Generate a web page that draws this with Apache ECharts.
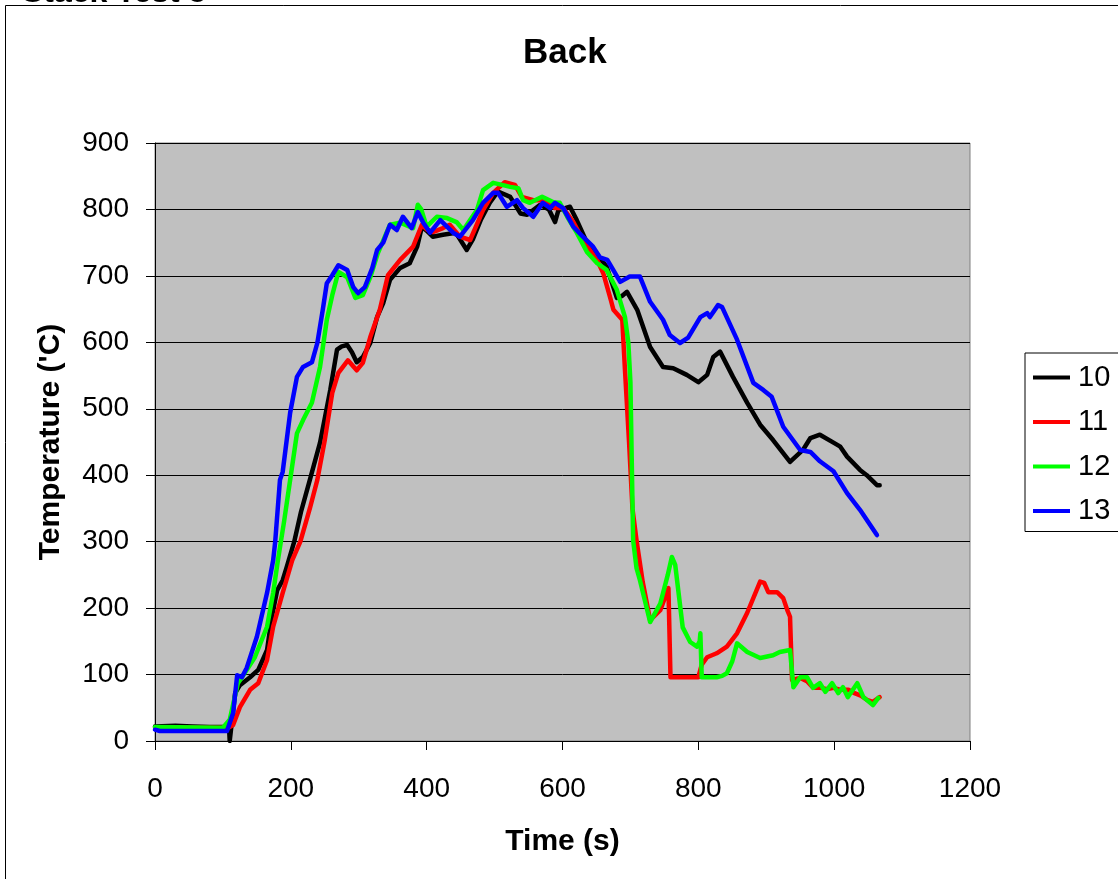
<!DOCTYPE html>
<html>
<head>
<meta charset="utf-8">
<script src="https://cdn.jsdelivr.net/npm/echarts@6/dist/echarts.min.js"></script>
<style>
html,body{margin:0;padding:0;background:#fff;}
#c{width:1118px;height:879px;}
</style>
</head>
<body>
<div id="c"></div>
<script>
// Time (s), Temperature ('C) pairs
const seriesNames = ['10', '11', '12', '13'];
const seriesColors = ['#000000', '#FF0000', '#00FF00', '#0000FF'];
const xTicks = [0, 200, 400, 600, 800, 1000, 1200];
const yTicks = [0, 100, 200, 300, 400, 500, 600, 700, 800, 900];

const s10 = [[0,22],[30,23],[55,22],[80,21],[106,21],[109,21],[110,0],[112,0],[118,72],[125,84],[140,96],[152,107],[165,137],[172,187],[180,227],[188,242],[194,262],[205,300],[215,345],[228,393],[243,449],[258,528],[268,589],[275,594],[283,596],[290,585],[297,570],[306,578],[317,599],[327,638],[336,659],[346,694],[361,712],[375,719],[386,744],[393,774],[400,768],[409,759],[424,762],[443,765],[459,739],[468,755],[480,785],[493,810],[505,827],[523,819],[538,794],[548,792],[567,807],[580,800],[589,781],[594,799],[611,804],[621,784],[636,750],[655,727],[665,714],[680,667],[688,670],[695,676],[710,649],[729,593],[748,563],[763,561],[783,551],[800,540],[813,551],[822,578],[832,586],[851,548],[872,509],[891,476],[910,453],[935,420],[954,438],[965,456],[979,461],[999,449],[1009,443],[1019,428],[1038,408],[1048,400],[1063,385],[1067,385]];

const s11 = [[0,20],[108,20],[115,24],[125,51],[140,77],[152,87],[165,122],[174,172],[188,223],[202,272],[214,300],[228,350],[239,393],[250,453],[261,524],[270,554],[284,573],[297,558],[306,569],[317,608],[331,649],[343,701],[361,724],[380,744],[393,777],[400,770],[409,766],[424,772],[434,777],[449,759],[464,754],[483,799],[498,825],[515,841],[530,837],[540,819],[557,814],[571,814],[589,802],[601,802],[616,781],[630,754],[651,724],[660,704],[670,668],[675,649],[688,634],[692,558],[698,450],[703,350],[709,302],[718,240],[729,182],[744,197],[756,230],[758,230],[759,96],[800,96],[805,115],[813,126],[827,132],[842,142],[857,162],[872,193],[891,240],[897,238],[903,224],[916,224],[925,215],[931,197],[935,187],[938,92],[950,95],[960,90],[969,80],[980,80],[990,78],[999,80],[1010,77],[1021,77],[1030,72],[1040,68],[1048,62],[1057,59],[1067,66]];

const s12 = [[0,21],[100,20],[110,32],[122,87],[135,107],[147,126],[165,172],[174,223],[181,272],[190,330],[199,393],[209,463],[218,483],[231,509],[243,563],[253,634],[261,671],[270,706],[283,698],[295,667],[306,671],[317,698],[328,734],[346,777],[361,780],[380,772],[387,807],[392,800],[400,774],[415,789],[430,787],[444,781],[454,769],[474,799],[483,829],[498,840],[511,837],[523,834],[535,832],[542,814],[552,810],[570,819],[586,811],[596,810],[607,789],[621,765],[636,736],[651,719],[665,709],[680,679],[692,638],[697,599],[700,540],[702,420],[704,302],[709,260],[714,242],[729,179],[744,207],[755,250],[761,277],[766,265],[777,171],[788,149],[798,142],[802,150],[803,162],[805,96],[827,96],[835,98],[842,102],[850,120],[857,147],[872,134],[891,125],[910,129],[920,134],[935,137],[940,81],[950,96],[960,96],[969,80],[979,87],[987,74],[997,87],[1006,72],[1013,81],[1020,66],[1034,87],[1043,66],[1057,54],[1065,65]];

const s13 = [[0,17],[7,15],[106,15],[115,42],[121,99],[128,96],[135,110],[150,157],[165,223],[174,272],[177,300],[184,393],[188,405],[199,494],[209,548],[218,563],[231,570],[239,599],[247,649],[253,689],[261,701],[270,716],[283,709],[292,683],[299,674],[309,683],[320,712],[327,739],[336,750],[346,777],[356,769],[365,789],[378,772],[387,796],[395,780],[405,765],[420,784],[439,765],[449,759],[468,784],[483,810],[498,825],[505,825],[518,804],[533,814],[542,802],[557,789],[571,810],[582,802],[589,810],[601,802],[616,774],[630,759],[645,744],[655,728],[666,724],[685,691],[699,699],[714,699],[729,661],[748,634],[758,611],[773,599],[785,607],[803,638],[813,644],[817,638],[829,656],[835,653],[857,604],[881,539],[896,528],[908,518],[925,473],[950,438],[965,435],[979,421],[999,406],[1019,373],[1038,348],[1063,310]];

const allData = [s10, s11, s12, s13];
const FONT = "'Liberation Sans', Arial, sans-serif";

const chart = echarts.init(document.getElementById('c'), null, {renderer: 'canvas'});
chart.setOption({
  backgroundColor: '#ffffff',
  animation: false,
  title: {
    text: 'Back',
    left: 523, top: 36, padding: 0,
    textStyle: {fontFamily: FONT, fontSize: 35, fontWeight: 'bold', color: '#000'}
  },
  graphic: [
    {type: 'rect', z: -1, shape: {x: 5.5, y: 5.5, width: 1300, height: 1000},
     style: {fill: 'none', stroke: '#000', lineWidth: 1}},
    {type: 'text', left: 22, top: -23, z: 10,
     style: {text: 'Stack Test 5', font: "bold 32px 'Liberation Sans', Arial, sans-serif", fill: '#000'}}
  ],
  legend: {
    orient: 'vertical',
    left: 1025, top: 353,
    padding: [10, 60, 6, 8],
    borderColor: '#000', borderWidth: 1,
    backgroundColor: '#fff',
    itemWidth: 37, itemHeight: 4, itemGap: 15.5,
    icon: 'rect',
    textStyle: {fontFamily: FONT, fontSize: 29, color: '#000', padding: [0, 0, 0, 3]},
    data: seriesNames
  },
  grid: {
    left: 155, top: 143, width: 815, height: 598,
    show: true, backgroundColor: '#C0C0C0', borderColor: '#808080', borderWidth: 1,
    containLabel: false
  },
  xAxis: {
    type: 'value', min: xTicks[0], max: xTicks[xTicks.length - 1], interval: 200,
    name: 'Time (s)', nameLocation: 'middle', nameGap: 86,
    nameTextStyle: {fontFamily: FONT, fontSize: 30, fontWeight: 'bold', color: '#000'},
    axisLine: {show: true, lineStyle: {color: '#000', width: 1}},
    axisTick: {show: true, inside: false, length: 9, lineStyle: {color: '#000'}},
    axisLabel: {fontFamily: FONT, fontSize: 28, color: '#000', margin: 34,
      formatter: v => String(v)},
    splitLine: {show: false}
  },
  yAxis: {
    type: 'value', min: yTicks[0], max: yTicks[yTicks.length - 1], interval: 100,
    name: "Temperature ('C)", nameLocation: 'middle', nameGap: 89,
    nameTextStyle: {fontFamily: FONT, fontSize: 30, fontWeight: 'bold', color: '#000'},
    axisLine: {show: true, lineStyle: {color: '#000', width: 1}},
    axisTick: {show: true, inside: false, length: 9, lineStyle: {color: '#000'}},
    axisLabel: {fontFamily: FONT, fontSize: 28, color: '#000', margin: 26,
      formatter: v => String(v)},
    splitLine: {show: true, lineStyle: {color: '#000', width: 1}}
  },
  series: seriesNames.map((n, i) => ({
    name: n,
    type: 'line',
    data: allData[i],
    showSymbol: false,
    symbol: 'none',
    color: seriesColors[i],
    lineStyle: {color: seriesColors[i], width: 4.5, join: 'round', cap: 'round'},
    clip: true
  }))
});
</script>
</body>
</html>
